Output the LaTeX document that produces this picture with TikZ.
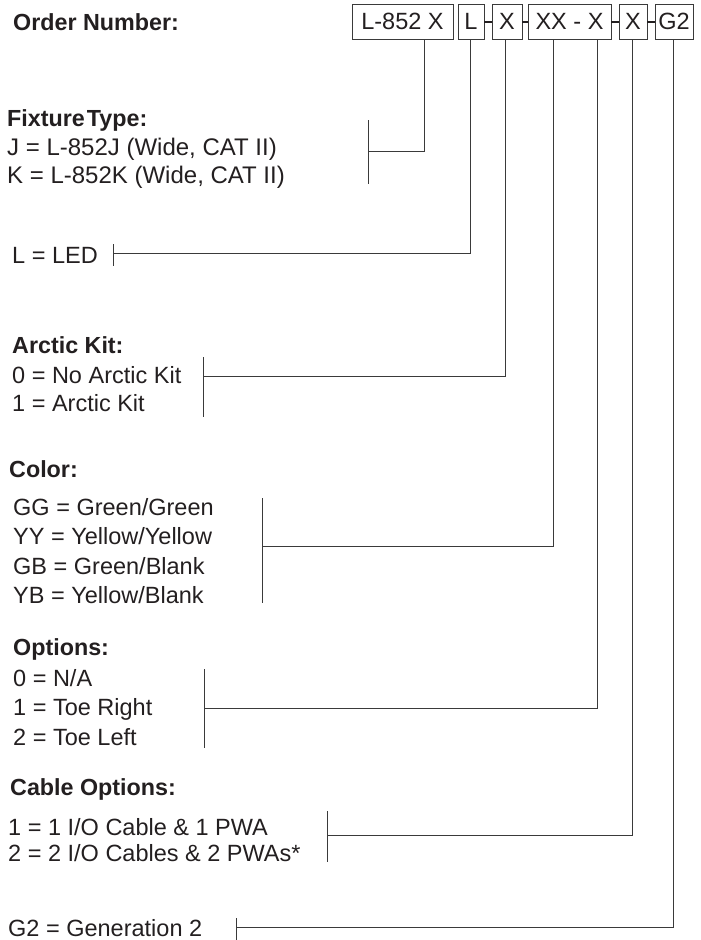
\documentclass[tikz,border=0pt]{standalone}
\usepackage{fontspec}
\setmainfont{Liberation Sans}
\definecolor{ink}{HTML}{231F20}
\definecolor{rule}{HTML}{3A3A3A}
\begin{document}
\begin{tikzpicture}[x=1pt,y=-1pt,
  every node/.style={font=\fontsize{23.5}{28}\selectfont,text=ink},
  codebox/.style={draw=rule,line width=0.7pt,minimum height=35pt,inner sep=0pt},
  entry/.style={anchor=base west,inner sep=0pt},
  wide entry/.style={entry,font=\fontsize{24}{28}\selectfont},
  heading/.style={entry,font=\fontsize{23.3}{28}\selectfont\bfseries},
  lead/.style={draw=rule,line width=0.8pt},
  joiner/.style={draw=ink,line width=2pt}]
  \useasboundingbox (0,0) rectangle (701,940);
  \node[heading] (ordnum) at (13,30.5) {Order Number:};
  \node[codebox,minimum width=101pt] (fix) at (402.5,21.5) {L-852 X};
  \node[codebox,minimum width=26pt] (led) at (471,21.5) {L};
  \node[codebox,minimum width=30pt] (arc) at (507,21.5) {X};
  \node[codebox,minimum width=83pt] (col) at (569.5,21.5) {XX - X};
  \node[codebox,minimum width=28pt] (opt) at (633,21.5) {X};
  \node[codebox,minimum width=38pt] (gen) at (674,21.5) {G2};
  \draw[joiner] (led.east) -- (arc.west);
  \draw[joiner] (arc.east) -- (col.west);
  \draw[joiner] (col.east) -- (opt.west);
  \draw[joiner] (opt.east) -- (gen.west);

  \node[heading] (fixhead) at (7,126) {\spaceskip=2pt Fixture Type:};
  \node[wide entry] (fixj) at (7,155.5) {J = L-852J (Wide, CAT II)};
  \node[wide entry] (fixk) at (7,183.5) {K = L-852K (Wide, CAT II)};
  \node[entry] (ledval) at (12,263.5) {L = LED};
  \node[heading] (archead) at (12,353) {Arctic Kit:};
  \node[entry] (arcno) at (12,383) {0 = No Arctic Kit};
  \node[entry] (arcyes) at (12,411.5) {1 = Arctic Kit};
  \node[heading] (colhead) at (9,477) {Color:};
  \node[entry] (colgg) at (13,515) {GG = Green/Green};
  \node[entry] (colyy) at (13,544.5) {YY = Yellow/Yellow};
  \node[entry] (colgb) at (13,574) {GB = Green/Blank};
  \node[entry] (colyb) at (13,603) {YB = Yellow/Blank};
  \node[heading] (opthead) at (13,655) {Options:};
  \node[entry] (optna) at (13,686) {0 = N/A};
  \node[entry] (optr) at (13,715.5) {1 = Toe Right};
  \node[entry] (optl) at (13,745) {2 = Toe Left};
  \node[heading] (cabhead) at (10,795) {Cable Options:};
  \node[entry] (cabone) at (8,835.5) {1 = 1 I/O Cable \& 1 PWA};
  \node[entry] (cabtwo) at (8,861) {2 = 2 I/O Cables \& 2 PWAs*};
  \node[entry] (genval) at (8,936.5) {G2 = Generation 2};

  \coordinate (fixtap) at (424,0);
  \coordinate (fixmid) at (368,151);
  \draw[lead] (368,120) -- (368,184);
  \draw[lead] (fix.south -| fixtap) |- (fixmid);
  \coordinate (ledtap) at (470,0);
  \coordinate (ledmid) at (113,253);
  \draw[lead] (113,244) -- (113,266);
  \draw[lead] (led.south -| ledtap) |- (ledmid);
  \coordinate (arctap) at (505,0);
  \coordinate (arcmid) at (203,376);
  \draw[lead] (203,357) -- (203,417);
  \draw[lead] (arc.south -| arctap) |- (arcmid);
  \coordinate (coltap) at (553,0);
  \coordinate (colmid) at (262,546);
  \draw[lead] (262,498) -- (262,603);
  \draw[lead] (col.south -| coltap) |- (colmid);
  \coordinate (opttap) at (597,0);
  \coordinate (optmid) at (204,708);
  \draw[lead] (204,669) -- (204,748);
  \draw[lead] (col.south -| opttap) |- (optmid);
  \coordinate (cabtap) at (632,0);
  \coordinate (cabmid) at (327,835);
  \draw[lead] (327,811) -- (327,862);
  \draw[lead] (opt.south -| cabtap) |- (cabmid);
  \coordinate (gentap) at (673,0);
  \coordinate (genmid) at (236,927);
  \draw[lead] (236,918) -- (236,940);
  \draw[lead] (gen.south -| gentap) |- (genmid);
\end{tikzpicture}
\end{document}
